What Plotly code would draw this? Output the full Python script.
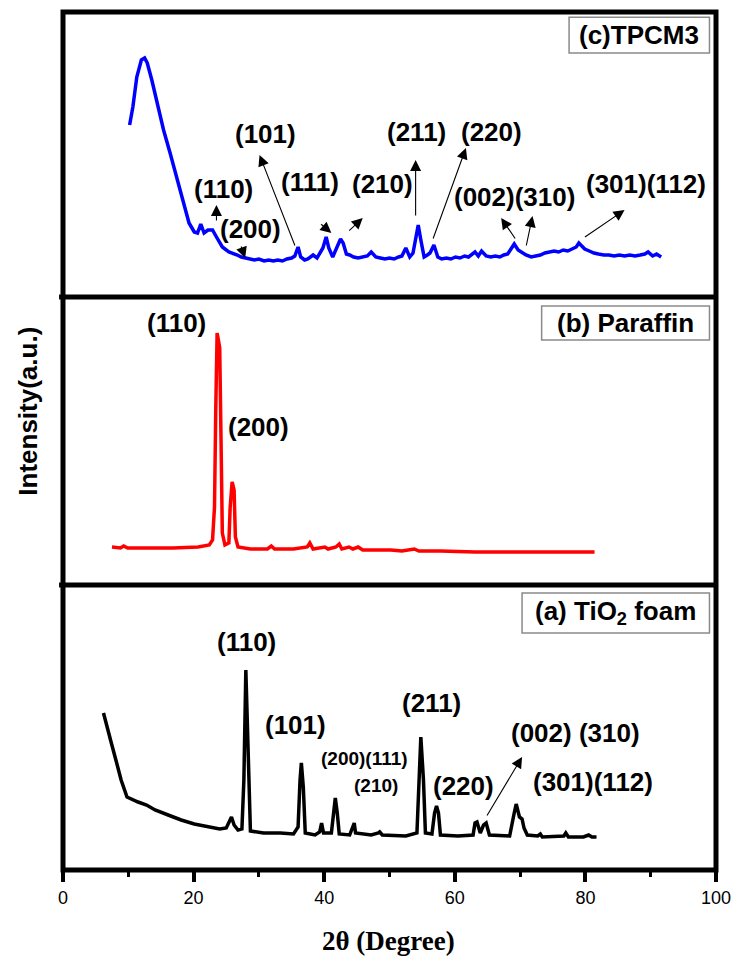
import plotly.graph_objects as go
from plotly.subplots import make_subplots

# ---------------- data (2theta in degrees, intensity in a.u.) ----------------
tpcm3_x = [10.2, 10.7, 11.3, 12.0, 12.5, 12.9, 13.6, 14.4, 15.4, 16.4,
           17.4, 18.4, 19.3, 20.1, 20.6, 21.1, 21.6, 22.2, 22.9, 23.5,
           24.4, 25.4, 26.0, 26.7, 27.3, 28.0, 28.6, 29.3, 30.0, 30.8,
           31.5, 32.2, 32.9, 33.6, 34.3, 35.0, 35.5, 36.0, 36.4, 37.0,
           37.5, 38.3, 38.9, 39.8, 40.3, 40.7, 41.3, 41.9, 42.5, 42.9,
           43.4, 43.9, 44.5, 45.2, 45.9, 46.6, 47.2, 47.9, 48.6, 49.3,
           50.0, 50.7, 51.4, 51.9, 52.5, 53.1, 53.6, 54.0, 54.4, 54.8,
           55.3, 55.8, 56.2, 56.8, 57.4, 58.0, 58.7, 59.4, 60.1, 60.8,
           61.5, 62.1, 62.6, 63.1, 63.6, 64.1, 64.8, 65.5, 66.2, 66.9,
           67.5, 68.1, 68.6, 69.1, 69.7, 70.3, 70.9, 71.7, 72.4, 73.1,
           73.8, 74.5, 75.2, 75.9, 76.6, 77.3, 78.0, 78.6, 79.0, 79.4,
           79.9, 80.6, 81.3, 82.0, 82.8, 83.6, 84.4, 85.2, 86.0, 86.8,
           87.6, 88.4, 89.1, 89.6, 90.3, 90.9, 91.6]
tpcm3_y = [172, 190, 220, 237, 239, 234, 217, 194, 167, 144,
           120, 94, 74, 65, 64, 73, 64, 67, 67, 60,
           50, 45, 44, 42, 40, 39, 38, 37, 38, 36,
           37, 36, 37, 36, 38, 39, 41, 50, 40, 37,
           38, 42, 39, 49, 60, 49, 40, 50, 58, 54,
           43, 42, 40, 39, 40, 41, 45, 40, 39, 38,
           39, 38, 40, 41, 49, 40, 44, 60, 72, 57,
           40, 42, 44, 52, 40, 38, 39, 38, 40, 39,
           41, 40, 42, 45, 41, 46, 41, 40, 41, 40,
           42, 43, 48, 53, 47, 44, 42, 40, 41, 42,
           44, 45, 46, 45, 47, 46, 48, 50, 54, 51,
           48, 46, 44, 43, 42, 42, 41, 42, 41, 42,
           41, 42, 43, 45, 41, 43, 40]

paraffin_x = [7.5, 8.8, 9.3, 9.9, 12.8, 16.8, 20.7, 22.4, 22.9, 23.2,
              23.4, 23.6, 23.8, 24.0, 24.2, 24.4, 24.8, 25.4, 25.6, 25.9,
              26.2, 26.4, 26.8, 28.7, 31.3, 31.9, 32.4, 35.3, 37.4, 37.8,
              38.3, 39.6, 40.1, 40.6, 41.8, 42.3, 42.7, 43.8, 44.4, 45.2,
              45.9, 48.5, 50.2, 51.9, 53.8, 54.5, 57.8, 63.1, 69.1, 74.4,
              81.4]
paraffin_y = [38, 37, 39, 37, 37, 37, 38, 40, 45, 78,
              178, 252, 245, 237, 145, 52, 40, 42, 78, 103,
              95, 48, 38, 36, 36, 39, 36, 36, 38, 42,
              36, 37, 38, 36, 38, 41, 36, 38, 36, 38,
              35, 35, 35, 34, 36, 34, 34, 33, 33, 33,
              33]

tio2_x = [6.2, 6.7, 7.4, 8.1, 8.9, 9.8, 10.7, 11.5, 12.8, 14.1,
          16.1, 18.1, 20.1, 22.1, 24.0, 25.0, 25.5, 25.8, 26.2, 26.8,
          27.4, 27.7, 28.0, 28.4, 28.7, 30.7, 33.3, 35.3, 36.0, 36.3,
          36.5, 36.8, 37.1, 38.6, 39.3, 39.6, 39.9, 41.1, 41.5, 41.7,
          42.0, 42.3, 43.9, 44.4, 44.6, 44.8, 47.2, 48.3, 48.5, 48.9,
          52.5, 54.2, 54.5, 54.8, 55.2, 55.5, 56.5, 56.9, 57.2, 57.5,
          57.8, 60.5, 62.8, 63.1, 63.4, 63.9, 64.4, 64.8, 65.3, 68.4,
          69.1, 69.4, 69.9, 70.3, 70.6, 71.1, 72.7, 73.1, 73.4, 76.7,
          77.0, 77.4, 79.7, 80.5, 81.0, 81.7]
tio2_y = [157, 143, 127, 110, 90, 73, 70, 68, 65, 60,
          55, 50, 46, 43, 41, 42, 50, 53, 45, 40,
          41, 90, 200, 90, 39, 37, 37, 36, 43, 90,
          107, 83, 37, 35, 38, 47, 37, 37, 57, 72,
          57, 36, 35, 43, 47, 37, 35, 37, 38, 35,
          34, 37, 90, 133, 90, 37, 36, 57, 64, 57,
          35, 34, 35, 47, 48, 37, 45, 47, 35, 34,
          57, 66, 53, 51, 42, 35, 34, 36, 33, 34,
          37, 33, 33, 35, 33, 33]

x_ticks = [0, 20, 40, 60, 80, 100]

# peak labels: (text, x, y)
labels_c = [("(101)", 31.0, 163), ("(110)", 24.6, 108), ("(200)", 28.7, 68), ("(111)", 37.8, 115),
            ("(210)", 48.9, 113), ("(211)", 54.2, 165), ("(220)", 65.6, 165),
            ("(002)(310)", 69.2, 100), ("(301)(112)", 89.3, 113)]
# arrows: (head_x, head_y, tail_x, tail_y)
arrows_c = [(30.1, 142, 35.6, 50), (23.5, 92, 23.5, 75), (27.9, 39, 27.2, 52), (41.1, 64, 39.3, 74),
            (45.9, 79, 43.6, 65), (54.0, 137, 54.0, 80), (61.7, 149, 56.6, 57),
            (67.1, 79, 69.4, 57), (71.9, 81, 70.9, 50), (86.0, 87, 79.7, 59)]
labels_b = [("(110)", 17.4, 262), ("(200)", 30.0, 158)]
labels_a = [("(110)", 28.1, 228, 26), ("(101)", 35.6, 145, 26), ("(200)(111)", 46.2, 112, 19),
            ("(210)", 47.9, 85, 19), ("(211)", 56.4, 167, 26), ("(220)", 61.3, 84, 26),
            ("(002) (310)", 78.5, 137, 26), ("(301)(112)", 81.2, 88, 26)]
arrows_a = [(70.3, 113, 64.8, 53)]

# ---------------- figure ----------------
H = 858.0
fig = make_subplots(rows=3, cols=1, shared_xaxes=True, vertical_spacing=0)

fig.add_trace(go.Scatter(x=tpcm3_x, y=tpcm3_y, mode="lines",
                         line=dict(color="#0000FF", width=3.5)), row=1, col=1)
fig.add_trace(go.Scatter(x=paraffin_x, y=paraffin_y, mode="lines",
                         line=dict(color="#FF0000", width=3.5)), row=2, col=1)
fig.add_trace(go.Scatter(x=tio2_x, y=tio2_y, mode="lines",
                         line=dict(color="#000000", width=3.5)), row=3, col=1)

LBL = dict(family="Liberation Sans, Arial", size=26, color="black")
ARW = dict(showarrow=True, arrowhead=2, arrowsize=2.0, arrowwidth=1.1, arrowcolor="black",
           standoff=0, startstandoff=0)
ann = []
for t, x, y in labels_c:
    ann.append(dict(text=f"<b>{t}</b>", x=x, y=y, xref="x", yref="y", showarrow=False, font=LBL))
for hx, hy, tx, ty in arrows_c:
    ann.append(dict(text="", x=hx, y=hy, ax=tx, ay=ty, xref="x", yref="y", axref="x", ayref="y", **ARW))
for t, x, y in labels_b:
    ann.append(dict(text=f"<b>{t}</b>", x=x, y=y, xref="x2", yref="y2", showarrow=False, font=LBL))
for t, x, y, s in labels_a:
    ann.append(dict(text=f"<b>{t}</b>", x=x, y=y, xref="x3", yref="y3", showarrow=False,
                    font=dict(family="Liberation Sans, Arial", size=s, color="black")))
for hx, hy, tx, ty in arrows_a:
    ann.append(dict(text="", x=hx, y=hy, ax=tx, ay=ty, xref="x3", yref="y3", axref="x3", ayref="y3", **ARW))

# panel name boxes
boxes = [("y", "x", "<b>(c)TPCM3</b>", 0.775, 0.990, 0.856, 0.982),
         ("y2", "x2", "<b>(b) Paraffin</b>", 0.733, 0.990, 0.851, 0.969),
         ("y3", "x3", "<b>(a) TiO<sub>2</sub> foam</b>", 0.703, 0.990, 0.832, 0.972)]
shapes = []
for yr, xr, t, x0, x1, y0, y1 in boxes:
    shapes.append(dict(type="rect", xref=f"{xr} domain", yref=f"{yr} domain", x0=x0, x1=x1, y0=y0, y1=y1,
                       line=dict(color="#8a8a8a", width=1.5), fillcolor="rgba(0,0,0,0)"))
    ann.append(dict(text=t, x=(x0 + x1) / 2, y=(y0 + y1) / 2, xref=f"{xr} domain", yref=f"{yr} domain",
                    showarrow=False, font=LBL, xanchor="center", yanchor="middle"))

# frame and separators
shapes.append(dict(type="rect", xref="paper", yref="paper", x0=0, x1=1, y0=0, y1=1,
                   line=dict(color="black", width=5)))
for yp in [285 / H, 573 / H]:
    shapes.append(dict(type="line", xref="paper", yref="paper", x0=-0.006, x1=1, y0=yp, y1=yp,
                       line=dict(color="black", width=5)))

# axis titles
ann.append(dict(text="<b>2θ (Degree)</b>", x=0.498, y=-0.083, xref="paper", yref="paper",
                showarrow=False, xanchor="center", yanchor="middle",
                font=dict(family="Liberation Serif, Times New Roman", size=27, color="black")))
ann.append(dict(text="<b>Intensity(a.u.)</b>", x=-0.054, y=0.535, xref="paper", yref="paper",
                showarrow=False, textangle=-90, xanchor="center", yanchor="middle",
                font=dict(family="Liberation Sans, Arial", size=26, color="black")))

# page body has an 8px margin, so the figure is 8px smaller and offset accordingly
fig.update_layout(
    width=734, height=948,
    margin=dict(l=55, r=26, t=4, b=86),
    paper_bgcolor="white", plot_bgcolor="white",
    showlegend=False,
    annotations=ann, shapes=shapes,
)

common_x = dict(range=[0, 100], showgrid=False, zeroline=False, showline=False)
fig.update_xaxes(**common_x, showticklabels=False, ticks="", row=1, col=1)
fig.update_xaxes(**common_x, showticklabels=False, ticks="", row=2, col=1)
fig.update_xaxes(**common_x, row=3, col=1, tickmode="array", tickvals=x_ticks,
                 ticks="outside", ticklen=11, tickwidth=4, tickcolor="black",
                 minor=dict(dtick=10, tick0=0, ticks="outside", ticklen=6, tickwidth=3, tickcolor="black"),
                 tickfont=dict(family="Liberation Sans, Arial", size=18, color="black"))

fig.update_yaxes(showgrid=False, zeroline=False, showline=False, showticklabels=False, ticks="")
fig.update_yaxes(range=[0, 285], domain=[573 / H, 1.0], row=1, col=1)
fig.update_yaxes(range=[0, 288], domain=[285 / H, 573 / H], row=2, col=1)
fig.update_yaxes(range=[0, 285], domain=[0.0, 285 / H], row=3, col=1)

fig.write_html("out.html")
